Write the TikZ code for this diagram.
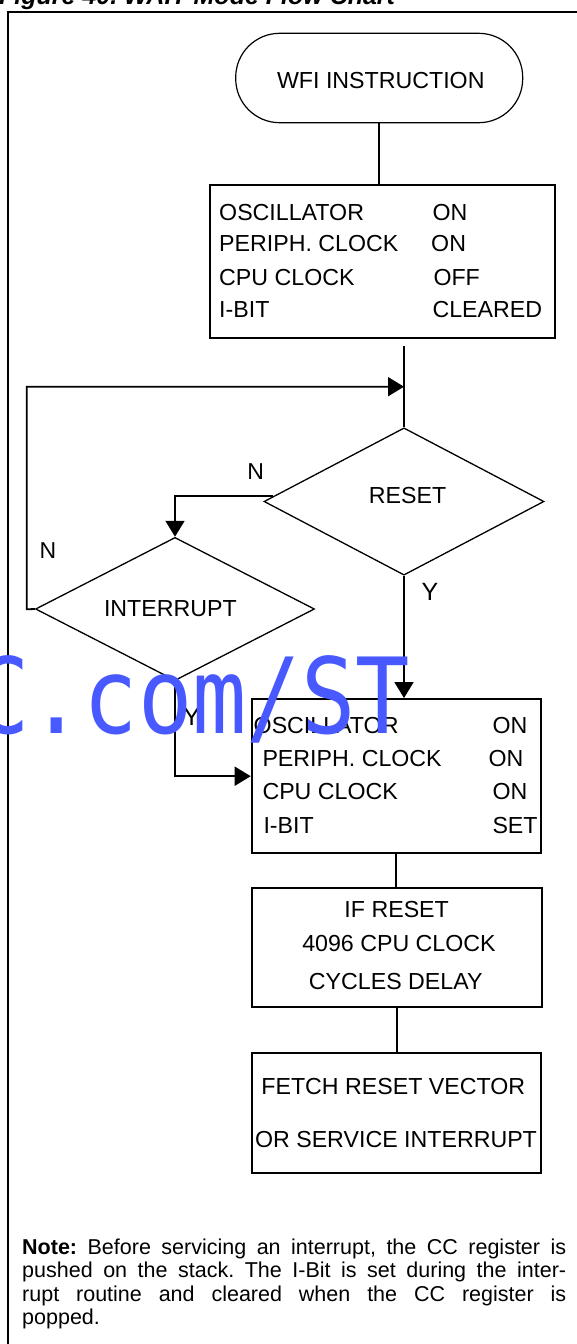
\documentclass[tikz,border=0pt]{standalone}
\usepackage{fontspec}
\setmainfont{Liberation Sans}
\newfontfamily\wmfont{DejaVu Sans Mono}
\usetikzlibrary{shapes.geometric,arrows.meta,calc}
\definecolor{wmblue}{RGB}{72,90,255}
\frenchspacing
\begin{document}
\begin{tikzpicture}[x=1pt,y=-1pt,
  txt/.style={font=\fontsize{23.2}{28}\selectfont, inner sep=0pt, anchor=base west},
  ctxt/.style={font=\fontsize{23.2}{28}\selectfont, inner sep=0pt, anchor=base},
  boxnode/.style={draw, line width=2pt, rectangle, inner sep=0pt},
  dec/.style={draw, line width=1.3pt, diamond, inner sep=0pt},
  conn/.style={line width=1.8pt},
  arr/.style={conn, -{Triangle[length=16pt,width=19pt]}},
  lbl/.style={font=\fontsize{23}{27}\selectfont, inner sep=0pt},
  ylbl/.style={font=\fontsize{25}{30}\selectfont, inner sep=0pt},
]
\useasboundingbox (0,0) rectangle (576,1344);
\fill[white] (0,0) rectangle (576,1344);
% title (cut off at top)
\node[anchor=base west, inner sep=0pt, font=\fontsize{25}{30}\selectfont\bfseries\itshape] (title) at (-1,4.5) {Figure 40. WAIT Mode Flow Chart};
% frame
\draw[line width=2pt] (590,11.7) -- (8.3,11.7) -- (8.3,1360);

% terminal
\node[draw, line width=1.2pt, rounded corners=44pt, minimum width=287pt, minimum height=89.4pt, inner sep=0pt] (term) at (379.2,78) {};
\node[ctxt] (termT) at (380.8,88.3) {WFI INSTRUCTION};

% box 1
\node[boxnode, minimum width=345pt, minimum height=153.3pt] (b1) at (382.5,261.7) {};
\node[txt] (b1a) at (219,220) {OSCILLATOR};
\node[txt] (b1b) at (219,251.7) {PERIPH. CLOCK};
\node[txt] (b1c) at (219,285) {CPU CLOCK};
\node[txt] (b1d) at (219,317.7) {I-BIT};
\node[txt] (b1e) at (432.3,220) {ON};
\node[txt] (b1f) at (431,251.7) {ON};
\node[txt] (b1g) at (433.3,285) {OFF};
\node[txt] (b1h) at (432.3,317.7) {CLEARED};

% decisions
\node[dec, minimum width=280pt, minimum height=147.3pt] (reset) at (404,501.5) {};
\node[ctxt] (resetT) at (407.5,503.3) {RESET};
\node[dec, minimum width=279pt, minimum height=143.2pt] (int) at (175,609) {};
\node[ctxt] (intT) at (170.4,616.7) {INTERRUPT};

% box 2
\node[boxnode, minimum width=289pt, minimum height=154.3pt] (b2) at (396.2,776.2) {};
\node[txt] (b2a) at (253.5,733.3) {OSCILLATOR};
\node[txt] (b2b) at (262.3,766) {PERIPH. CLOCK};
\node[txt] (b2c) at (262.3,799.3) {CPU CLOCK};
\node[txt] (b2d) at (263.3,833.3) {I-BIT};
\node[txt] (b2e) at (492.3,733.3) {ON};
\node[txt] (b2f) at (488.3,766) {ON};
\node[txt] (b2g) at (492.3,799.3) {ON};
\node[txt] (b2h) at (492.3,833.3) {SET};

% box 3
\node[boxnode, minimum width=290pt, minimum height=118.4pt] (b3) at (396.7,947.5) {};
\node[ctxt] (b3a) at (396.7,917.3) {IF RESET};
\node[ctxt] (b3b) at (399,951.7) {4096 CPU CLOCK};
\node[ctxt] (b3c) at (395.8,989.3) {CYCLES DELAY};

% box 4
\node[boxnode, minimum width=289.3pt, minimum height=120pt] (b4) at (396.3,1112.7) {};
\node[ctxt] (b4a) at (393.3,1094.3) {FETCH RESET VECTOR};
\node[ctxt] (b4b) at (396,1147.3) {OR SERVICE INTERRUPT};

% connectors
\coordinate (topin) at (404,346);
\coordinate (loopA) at (26.7,609.3);
\coordinate (loopB) at (26.7,386.7);
\coordinate (loopC) at (404,386.7);
\draw[conn] (term.south) -- (term.south |- b1.north);
\draw[conn] (topin) -- (reset.north);
\draw[arr] (int.west) -- (loopA) -- (loopB) -- (loopC);
\draw[arr] ($(reset.west)!0.072!(reset.north)$) -| (int.north);
\draw[arr] (int.south) |- (b2.west);
\draw[arr] (reset.south) -- (reset.south |- b2.north);
\draw[conn] (b2.south) -- (b2.south |- b3.north);
\draw[conn] (b3.south) -- (b3.south |- b4.north);

% labels
\node[lbl] (n1) at (255.6,471.7) {N};
\node[lbl] (n2) at (48,550.7) {N};
\node[ylbl] (y1) at (430,592) {Y};
\node[ylbl] (y2) at (191.7,716.7) {Y};

% note
\node[anchor=base west, inner sep=0pt] (note) at (22,1254) {\parbox[t]{544pt}{\fontsize{21.5}{23.5}\selectfont\frenchspacing
\makebox[544pt][s]{\textbf{Note:} Before servicing an interrupt, the CC register is}\\
\makebox[544pt][s]{pushed on the stack. The I-Bit is set during the inter-}\\
\makebox[544pt][s]{rupt routine and cleared when the CC register is}\\
popped.}};

% watermark
\node[anchor=base west, inner sep=0pt, text=wmblue, font=\wmfont\fontsize{105}{110}\selectfont, xscale=0.86] (wm) at (-25,733.3) {C.com/ST};
\end{tikzpicture}
\end{document}
